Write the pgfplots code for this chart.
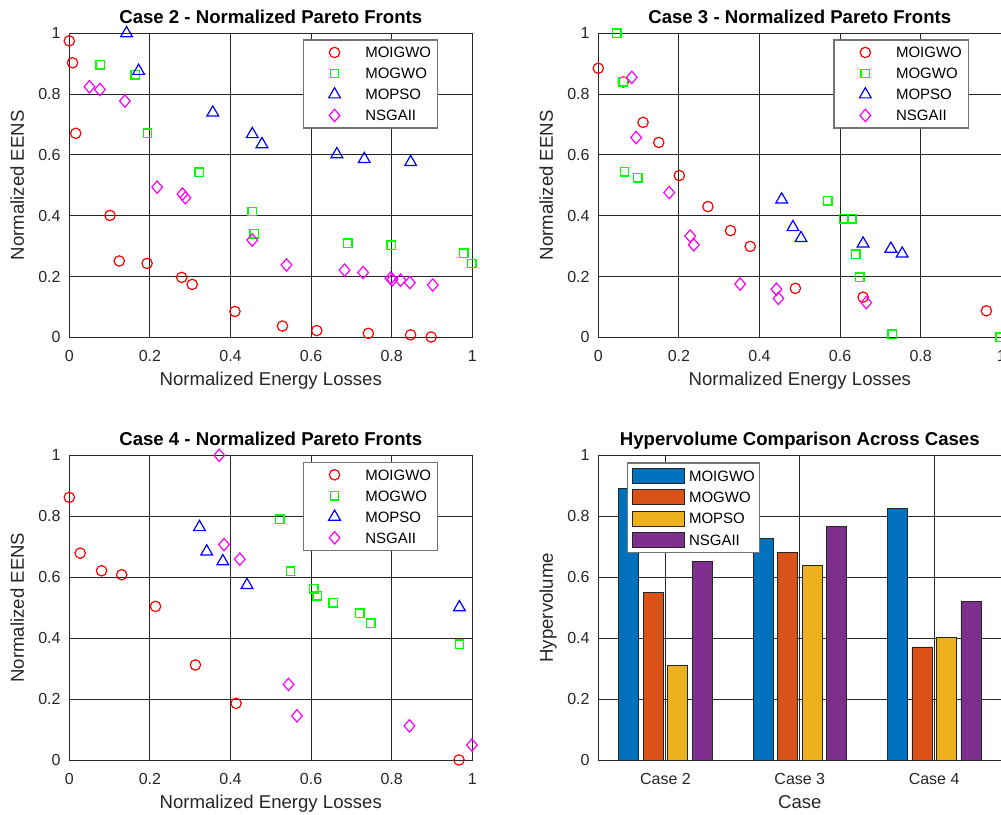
\documentclass[border=0pt]{standalone}
\usepackage{fontspec}
\setmainfont{Liberation Sans}
\usepackage{pgfplots}
\pgfplotsset{compat=1.18}
\definecolor{mgray}{HTML}{262626}
\definecolor{c1}{HTML}{0072BD}
\definecolor{c2}{HTML}{D95319}
\definecolor{c3}{HTML}{EDB120}
\definecolor{c4}{HTML}{7E2F8E}
\definecolor{mred}{rgb}{1,0,0}
\definecolor{mgreen}{rgb}{0,1,0}
\definecolor{mblue}{rgb}{0,0,1}
\definecolor{mmag}{rgb}{1,0,1}
\newcommand{\legfont}{\fontsize{7.5}{9}\selectfont}
\pgfplotsset{
  common/.style={
    scale only axis, width=201.5pt,
    axis line style={draw=mgray, line width=0.5pt},
    grid=major, grid style={draw=mgray, line width=0.5pt},
    major tick length=0pt, tick style={draw=none},
    ticklabel style={font=\fontsize{8}{9}\selectfont, text=mgray},
    xticklabel style={anchor=base, yshift=-12.3pt, inner sep=0pt},
    yticklabel style={anchor=east, xshift=-4.2pt, inner sep=0pt},
    label style={font=\fontsize{9.3}{11}\selectfont, text=mgray},
    xlabel style={at={(axis description cs:0.5,0)}, anchor=base, yshift=-24.3pt},
    ylabel style={at={(axis description cs:-0.1127,0.5)}, anchor=base},
    every axis title/.style={font=\bfseries\fontsize{9.3}{11}\selectfont, text=black, at={(axis description cs:0.5,1)}, anchor=base, yshift=5pt},
    /pgf/number format/assume math mode=true,
    ymin=0, ymax=1, ytick={0,0.2,0.4,0.6,0.8,1},
  },
  sc/.style={
    common, height=152pt, clip=false,
    xmin=0, xmax=1, xtick={0,0.2,0.4,0.6,0.8,1},
    xlabel={Normalized Energy Losses}, ylabel={Normalized EENS},
    legend image code/.code={\path (0pt,0pt) (27pt,0pt); \draw[mark repeat=2,mark phase=2,##1] plot coordinates {(0pt,0pt)(12pt,0pt)(24pt,0pt)};},
    legend cell align=left,
    legend style={anchor=north east, draw=black!55, line width=0.6pt, fill=white,
      font=\legfont, text=black, inner xsep=3.3pt, inner ysep=2.25pt, row sep=2.5pt,
      nodes={inner sep=0pt, text height=6.7pt, text depth=1.3pt, font=\legfont}},
  },
  mo/.style={only marks, mark=o, mark size=2.6pt, color=mred, line width=0.6pt, mark options={draw=mred}},
  mg/.style={only marks, mark=square, mark size=2.1pt, color=mgreen, line width=0.7pt, mark options={draw=mgreen}},
  mp/.style={only marks, mark=triangle, mark size=3.4pt, color=mblue, line width=0.6pt, mark options={draw=mblue}},
  mn/.style={only marks, mark=diamond, mark size=3.1pt, color=mmag, line width=0.6pt, mark options={draw=mmag, xscale=1.15}},
}
\begin{document}
\begin{tikzpicture}
\useasboundingbox (0,0) rectangle (500.5pt,407pt);
% ---------- Case 2 ----------
\begin{axis}[sc, at={(34.65pt,238.35pt)}, anchor=south west,
  title={Case 2 - Normalized Pareto Fronts},
  legend style={at={(axis description cs:0.9156,0.980)}}]
\addplot[mo] coordinates {(0.000,0.975)(0.008,0.903)(0.016,0.671)(0.101,0.401)(0.124,0.251)(0.193,0.243)(0.279,0.197)(0.305,0.174)(0.411,0.085)(0.529,0.037)(0.614,0.022)(0.742,0.013)(0.847,0.008)(0.898,0.001)};
\addlegendentry{MOIGWO}
\addplot[mg] coordinates {(0.077,0.897)(0.164,0.863)(0.194,0.671)(0.322,0.543)(0.454,0.414)(0.459,0.341)(0.691,0.310)(0.799,0.303)(0.979,0.277)(0.999,0.243)};
\addlegendentry{MOGWO}
\addplot[mp] coordinates {(0.142,1.000)(0.172,0.876)(0.356,0.739)(0.454,0.668)(0.478,0.635)(0.664,0.602)(0.732,0.586)(0.847,0.576)};
\addlegendentry{MOPSO}
\addplot[mn] coordinates {(0.050,0.824)(0.076,0.815)(0.138,0.777)(0.218,0.494)(0.281,0.471)(0.288,0.459)(0.454,0.320)(0.539,0.238)(0.683,0.221)(0.729,0.213)(0.797,0.194)(0.802,0.190)(0.822,0.188)(0.845,0.180)(0.902,0.172)};
\addlegendentry{NSGAII}
\end{axis}
% ---------- Case 3 ----------
\begin{axis}[sc, at={(299.15pt,238.35pt)}, anchor=south west,
  title={Case 3 - Normalized Pareto Fronts},
  legend style={at={(axis description cs:0.920,0.980)}}]
\addplot[mo] coordinates {(0.000,0.885)(0.062,0.840)(0.111,0.707)(0.150,0.641)(0.201,0.532)(0.272,0.430)(0.328,0.351)(0.377,0.299)(0.489,0.161)(0.657,0.132)(0.963,0.087)};
\addlegendentry{MOIGWO}
\addplot[mg] coordinates {(0.046,1.000)(0.062,0.840)(0.065,0.544)(0.098,0.524)(0.569,0.449)(0.609,0.390)(0.629,0.390)(0.639,0.273)(0.649,0.198)(0.729,0.010)(0.997,0.000)};
\addlegendentry{MOGWO}
\addplot[mp] coordinates {(0.455,0.453)(0.483,0.362)(0.503,0.326)(0.657,0.308)(0.726,0.291)(0.754,0.275)};
\addlegendentry{MOPSO}
\addplot[mn] coordinates {(0.083,0.855)(0.094,0.657)(0.176,0.476)(0.228,0.333)(0.237,0.304)(0.352,0.175)(0.442,0.158)(0.447,0.128)(0.665,0.114)};
\addlegendentry{NSGAII}
\end{axis}
% ---------- Case 4 ----------
\begin{axis}[sc, at={(34.65pt,27pt)}, anchor=south west, height=152.35pt,
  title={Case 4 - Normalized Pareto Fronts},
  legend style={at={(axis description cs:0.9156,0.979)}}]
\addplot[mo] coordinates {(0.000,0.862)(0.027,0.679)(0.080,0.621)(0.130,0.608)(0.214,0.504)(0.313,0.312)(0.414,0.186)(0.967,0.000)};
\addlegendentry{MOIGWO}
\addplot[mg] coordinates {(0.522,0.790)(0.549,0.620)(0.607,0.562)(0.615,0.539)(0.655,0.516)(0.721,0.482)(0.748,0.449)(0.968,0.380)};
\addlegendentry{MOGWO}
\addplot[mp] coordinates {(0.323,0.764)(0.341,0.684)(0.381,0.652)(0.441,0.574)(0.968,0.501)};
\addlegendentry{MOPSO}
\addplot[mn] coordinates {(0.372,1.000)(0.384,0.707)(0.423,0.659)(0.544,0.248)(0.565,0.145)(0.844,0.112)(0.999,0.049)};
\addlegendentry{NSGAII}
\end{axis}
% ---------- Hypervolume ----------
\begin{axis}[common, at={(299.15pt,27pt)}, anchor=south west, height=152.35pt,
  xmin=0.5, xmax=3.5, xtick={1,2,3}, xticklabels={Case 2,Case 3,Case 4},
  xlabel={Case}, ylabel={Hypervolume},
  title={Hypervolume Comparison Across Cases},
  legend cell align=left,
  legend style={at={(axis description cs:0.0705,0.977)}, anchor=north west, draw=black!55, line width=0.6pt, fill=white,
      font=\legfont, text=black,
      inner xsep=2.5pt, inner ysep=2.5pt, row sep=2.65pt,
      nodes={inner sep=0pt, text height=6.7pt, text depth=1.3pt, font=\legfont}}]
\addplot[ybar, bar width=10pt, bar shift=-18.4pt, fill=c1, draw=black!85, line width=0.4pt, forget plot] coordinates {(1,0.892)(2,0.726)(3,0.826)};
\addplot[ybar, bar width=10pt, bar shift=-6.1pt, fill=c2, draw=black!85, line width=0.4pt, forget plot] coordinates {(1,0.550)(2,0.680)(3,0.371)};
\addplot[ybar, bar width=10pt, bar shift=6.1pt, fill=c3, draw=black!85, line width=0.4pt, forget plot] coordinates {(1,0.311)(2,0.638)(3,0.401)};
\addplot[ybar, bar width=10pt, bar shift=18.4pt, fill=c4, draw=black!85, line width=0.4pt, forget plot] coordinates {(1,0.652)(2,0.767)(3,0.520)};
\addlegendimage{legend image code/.code={\draw[fill=c1,draw=black!85,line width=0.4pt] (0pt,-3.75pt) rectangle (26pt,3.75pt); \path (27.85pt,0pt);}}
\addlegendentry{MOIGWO\hspace{0.7pt}}
\addlegendimage{legend image code/.code={\draw[fill=c2,draw=black!85,line width=0.4pt] (0pt,-3.75pt) rectangle (26pt,3.75pt); \path (27.85pt,0pt);}}
\addlegendentry{MOGWO}
\addlegendimage{legend image code/.code={\draw[fill=c3,draw=black!85,line width=0.4pt] (0pt,-3.75pt) rectangle (26pt,3.75pt); \path (27.85pt,0pt);}}
\addlegendentry{MOPSO}
\addlegendimage{legend image code/.code={\draw[fill=c4,draw=black!85,line width=0.4pt] (0pt,-3.75pt) rectangle (26pt,3.75pt); \path (27.85pt,0pt);}}
\addlegendentry{NSGAII}
\end{axis}
\end{tikzpicture}
\end{document}
